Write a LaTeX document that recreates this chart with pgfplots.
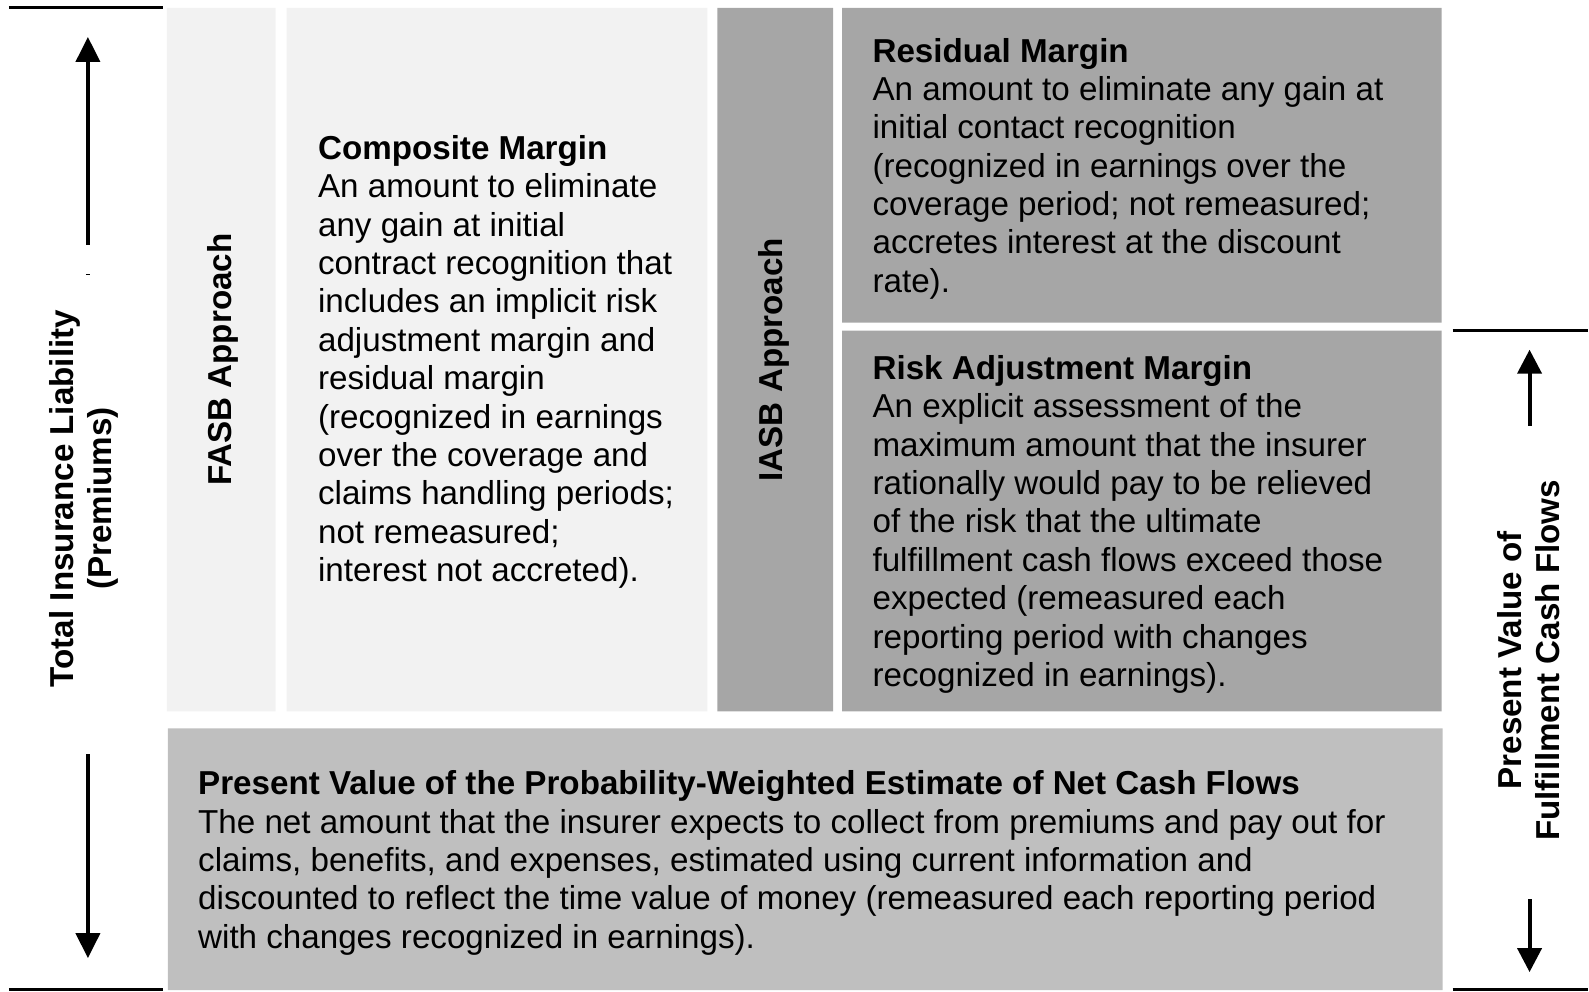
\documentclass[border=0pt]{standalone}
\usepackage{fontspec}
\setmainfont{Liberation Sans}
\usepackage{pgfplots}
\pgfplotsset{compat=1.18}
\usetikzlibrary{arrows.meta}
\definecolor{lightbox}{HTML}{F2F2F2}
\definecolor{darkbox}{HTML}{A6A6A6}
\definecolor{midbox}{HTML}{BFBFBF}
\newcommand{\bodyfont}{\fontsize{16.6}{19.2}\selectfont}
\begin{document}
\begin{tikzpicture}
\begin{axis}[
  width=794.5pt, height=496pt, scale only axis,
  xmin=0, xmax=1589, ymin=0, ymax=992, y dir=reverse,
  hide axis, clip=false,
]
% full-frame invisible path (keeps the page size)
\addplot[draw=none] coordinates {(0,0) (1589,992)};
% boxes
\addplot[fill=lightbox, draw=none] coordinates {(167,8) (276,8) (276,712) (167,712) (167,8)};
\addplot[fill=lightbox, draw=none] coordinates {(287,8) (708,8) (708,712) (287,712) (287,8)};
\addplot[fill=darkbox, draw=none] coordinates {(718,8) (834,8) (834,712) (718,712) (718,8)};
\addplot[fill=darkbox, draw=none] coordinates {(843,8) (1443,8) (1443,323) (843,323) (843,8)};
\addplot[fill=darkbox, draw=none] coordinates {(843,331) (1443,331) (1443,712) (843,712) (843,331)};
\addplot[fill=midbox, draw=none] coordinates {(168,729) (1444,729) (1444,991) (168,991) (168,729)};
% rules
\addplot[black, line width=1.5pt] coordinates {(9,8) (163,8)};
\addplot[black, line width=1.5pt] coordinates {(9,990) (163,990)};
\addplot[black, line width=1.5pt] coordinates {(1454,331) (1589,331)};
\addplot[black, line width=1.5pt] coordinates {(1454,990) (1589,990)};
% arrows
\addplot[black, line width=2pt, -{Triangle[width=12pt,length=12.5pt]}] coordinates {(88,245) (88,37)};
\addplot[black, line width=2pt, -{Triangle[width=12pt,length=12.5pt]}] coordinates {(88,755) (88,959)};
\addplot[black, line width=2pt, -{Triangle[width=12pt,length=12pt]}] coordinates {(1531,426) (1531,350)};
\addplot[black, line width=2pt, -{Triangle[width=12pt,length=12pt]}] coordinates {(1531,900) (1531,973)};
\addplot[black, line width=0.5pt] coordinates {(86,275) (90,275)};
% texts (anchor = baseline of last line)
\node[anchor=base west, align=left, inner sep=0pt, font=\bodyfont] at (axis cs:318,582)
{\textbf{Composite Margin}\\An amount to eliminate\\any gain at initial\\contract recognition that\\includes an implicit risk\\adjustment margin and\\residual margin\\(recognized in earnings\\over the coverage and\\claims handling periods;\\not remeasured;\\interest not accreted).};
\node[anchor=base west, align=left, inner sep=0pt, font=\bodyfont] at (axis cs:873,292.5)
{\textbf{Residual Margin}\\An amount to eliminate any gain at\\initial contact recognition\\(recognized in earnings over the\\coverage period; not remeasured;\\accretes interest at the discount\\rate).};
\node[anchor=base west, align=left, inner sep=0pt, font=\bodyfont] at (axis cs:873,687)
{\textbf{Risk Adjustment Margin}\\An explicit assessment of the\\maximum amount that the insurer\\rationally would pay to be relieved\\of the risk that the ultimate\\fulfillment cash flows exceed those\\expected (remeasured each\\reporting period with changes\\recognized in earnings).};
\node[anchor=base west, align=left, inner sep=0pt, font=\bodyfont] at (axis cs:198,949)
{\textbf{Present Value of the Probability-Weighted Estimate of Net Cash Flows}\\The net amount that the insurer expects to collect from premiums and pay out for\\claims, benefits, and expenses, estimated using current information and\\discounted to reflect the time value of money (remeasured each reporting period\\with changes recognized in earnings).};
\node[rotate=90, anchor=center, inner sep=0pt, font=\bodyfont\bfseries] at (axis cs:223,360) {FASB Approach};
\node[rotate=90, anchor=center, inner sep=0pt, font=\bodyfont\bfseries] at (axis cs:775,360) {IASB Approach};
\node[rotate=90, anchor=center, align=center, inner sep=0pt, font=\bodyfont\bfseries] at (axis cs:84,499) {Total Insurance Liability\\(Premiums)};
\node[rotate=90, anchor=center, align=center, inner sep=0pt, font=\bodyfont\bfseries] at (axis cs:1530,661) {Present Value of\\Fulfillment Cash Flows};
\end{axis}
\end{tikzpicture}
\end{document}
